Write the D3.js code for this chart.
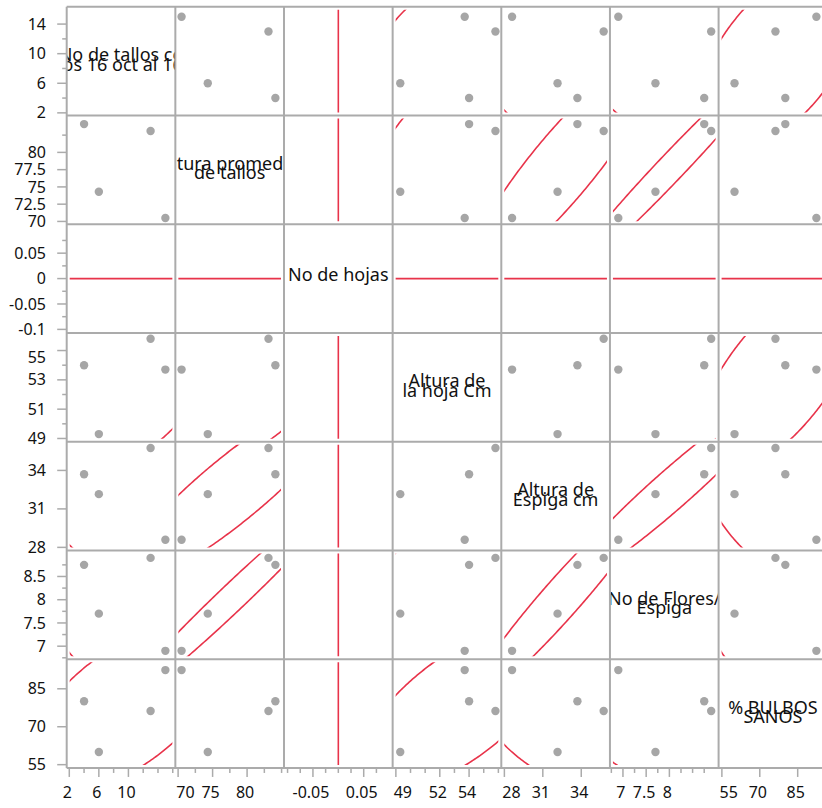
<!DOCTYPE html>
<html>
<head>
<meta charset="utf-8">
<script src="https://cdn.jsdelivr.net/npm/d3@7/dist/d3.min.js"></script>
<style>
  body { margin: 0; background: #fff; }
  text { font-family: "Noto Sans", sans-serif; fill: #111; }
</style>
</head>
<body>
<script>
// variable names, as wrapped lines in the diagonal cells
const names = [
  ["No de tallos co", "ntados 16 oct al 16 nov"],
  ["Altura promedio", "de tallos"],
  ["No de hojas"],
  ["Altura de", "la hoja Cm"],
  ["Altura de", "Espiga cm"],
  ["No de Flores/", "Espiga"],
  ["% BULBOS", "SANOS"]
];

// four observations per variable
const tallos = [4, 13, 6, 15];
const alturaTallos = [84.1, 83.1, 74.3, 70.5];
const hojas = [0, 0, 0, 0];
const alturaHoja = [54, 55.8, 49.3, 53.7];
const alturaEspiga = [33.7, 35.75, 32.15, 28.6];
const flores = [8.75, 8.9, 7.7, 6.9];
const bulbos = [80.1, 76.2, 60, 92.4];
const columns = [tallos, alturaTallos, hojas, alturaHoja, alturaEspiga, flores, bulbos];

const domains = [[1.65, 16.35], [69.6, 85.35], [-0.107, 0.107], [48.78, 56.2], [27.76, 36.24], [6.72, 9.06], [53.7, 96.7]];

const yTicks = [
  [2, 4, 6, 8, 10, 12, 14],
  [70, 72.5, 75, 77.5, 80, 82.5],
  [-0.1, -0.075, -0.05, -0.025, 0, 0.025, 0.05, 0.075],
  [49, 50, 51, 52, 53, 54, 55],
  [28, 31, 34],
  [6.75, 7, 7.25, 7.5, 7.75, 8, 8.25, 8.5, 8.75],
  [55, 70, 85]
];
const yLabels = [[2, 6, 10, 14], [70, 72.5, 75, 77.5, 80], [-0.1, -0.05, 0, 0.05], [49, 51, 53, 55], [28, 31, 34], [7, 7.5, 8, 8.5], [55, 70, 85]];
const xTicks = [
  [2, 4, 6, 8, 10, 12, 14, 16],
  [70, 72.5, 75, 77.5, 80, 82.5, 85],
  [-0.1, -0.075, -0.05, -0.025, 0, 0.025, 0.05, 0.075],
  [49, 50, 51, 52, 53, 54, 55, 56],
  [28, 31, 34],
  [6.75, 7, 7.25, 7.5, 7.75, 8, 8.25, 8.5, 8.75],
  [55, 70, 85]
];
const xLabels = [[2, 6, 10], [70, 75, 80], [-0.05, 0.05], [49, 52, 54], [28, 31, 34], [7, 7.5, 8], [55, 70, 85]];

const margin = { left: 66.7, top: 6.7 },
      cw = 108.65, ch = 108.75,
      n = columns.length,
      k = Math.sqrt(5.991),
      grey = "#ababab",
      red = "#e8334a";

const svg = d3.select("body")
  .append("svg")
  .attr("width", 822)
  .attr("height", 808);

const xScale = domains.map((d, j) => d3.scaleLinear()
  .domain(d)
  .range([margin.left + j * cw, margin.left + (j + 1) * cw]));
const yScale = domains.map((d, i) => d3.scaleLinear()
  .domain(d)
  .range([margin.top + (i + 1) * ch, margin.top + i * ch]));

const defs = svg.append("defs");

function ellipse(xs, ys) {
  const mx = d3.mean(xs), my = d3.mean(ys);
  const sxx = d3.variance(xs), syy = d3.variance(ys);
  const sxy = d3.sum(xs, (d, i) => (d - mx) * (ys[i] - my)) / (xs.length - 1);
  const a = Math.sqrt(sxx),
        b = a > 0 ? sxy / a : 0,
        c = Math.sqrt(Math.max(syy - b * b, 0));
  return d3.range(0, 361).map((t) => {
    const r = t * Math.PI / 180;
    return [mx + k * a * Math.cos(r), my + k * (b * Math.cos(r) + c * Math.sin(r))];
  });
}

for (let i = 0; i < n; i++) {
  for (let j = 0; j < n; j++) {
    const x0 = margin.left + j * cw, y0 = margin.top + i * ch;
    const cell = svg.append("g").attr("class", "cell");
    if (i === j) {
      defs.append("clipPath")
        .attr("id", "lab" + i)
        .append("rect")
        .attr("x", x0)
        .attr("y", y0)
        .attr("width", cw)
        .attr("height", ch);
      const cy = y0 + ch / 2;
      cell.append("text")
        .attr("clip-path", "url(#lab" + i + ")")
        .attr("text-anchor", "middle")
        .style("font-size", "18px")
        .selectAll("tspan")
        .data(names[i])
        .enter()
        .append("tspan")
        .attr("x", x0 + cw / 2)
        .attr("y", (d, l) => names[i].length === 1 ? cy + 2 : cy + l * 9.6)
        .text((d) => d);
      continue;
    }
    defs.append("clipPath")
      .attr("id", "c" + i + "-" + j)
      .append("rect")
      .attr("x", x0 + 3)
      .attr("y", y0 + 3)
      .attr("width", cw - 6)
      .attr("height", ch - 6);

    // a constant column (No de hojas) only gets its degenerate ellipse, no points
    const showPoints = d3.variance(columns[i]) > 0 && d3.variance(columns[j]) > 0;
    cell.selectAll("circle")
      .data(showPoints ? columns[j].map((d, p) => [d, columns[i][p]]) : [])
      .enter()
      .append("circle")
      .attr("cx", (d) => xScale[j](d[0]))
      .attr("cy", (d) => yScale[i](d[1]))
      .attr("r", 4.2)
      .style("fill", "#a6a6a6");

    cell.append("path")
      .attr("clip-path", "url(#c" + i + "-" + j + ")")
      .attr("d", d3.line()
        .x((d) => xScale[j](d[0]))
        .y((d) => yScale[i](d[1]))(ellipse(columns[j], columns[i])))
      .style("fill", "none")
      .style("stroke", red)
      .style("stroke-width", 1.6);
  }
}

// cell borders
const grid = svg.append("g").attr("class", "grid");
d3.range(n + 1).forEach((j) => {
  grid.append("line")
    .attr("x1", margin.left + j * cw).attr("x2", margin.left + j * cw)
    .attr("y1", margin.top).attr("y2", margin.top + n * ch);
  grid.append("line")
    .attr("y1", margin.top + j * ch).attr("y2", margin.top + j * ch)
    .attr("x1", margin.left).attr("x2", margin.left + n * cw);
});
grid.selectAll("line")
  .style("stroke", grey)
  .style("stroke-width", 2);

// y axes
const yAxis = svg.append("g").attr("class", "y-axis");
let prevY = -Infinity;
yScale.forEach((s, i) => {
  yTicks[i].forEach((t) => {
    const major = yLabels[i].includes(t);
    yAxis.append("line")
      .attr("x1", margin.left - (major ? 9.5 : 4.5))
      .attr("x2", margin.left)
      .attr("y1", s(t))
      .attr("y2", s(t))
      .style("stroke", grey)
      .style("stroke-width", 1.5);
  });
  yLabels[i].slice().sort((a, b) => b - a).forEach((t, l) => {
    let y = s(t);
    if (l === 0 && y - prevY < 28) y = prevY + 28;
    prevY = Math.max(s(t), y);
    yAxis.append("text")
      .attr("x", 46)
      .attr("y", y)
      .attr("dy", "0.35em")
      .attr("text-anchor", "end")
      .style("font-size", "16px")
      .text(String(t));
  });
});

// x axes
const xAxis = svg.append("g").attr("class", "x-axis");
const bottom = margin.top + n * ch;
xScale.forEach((s, j) => {
  xTicks[j].forEach((t) => {
    const major = xLabels[j].includes(t);
    xAxis.append("line")
      .attr("x1", s(t))
      .attr("x2", s(t))
      .attr("y1", bottom)
      .attr("y2", bottom + (major ? 9 : 5))
      .style("stroke", grey)
      .style("stroke-width", 1.5);
  });
  xLabels[j].forEach((t) => {
    const label = xAxis.append("text")
      .attr("y", 798)
      .attr("text-anchor", "middle")
      .style("font-size", "16px")
      .text(String(t));
    let x = s(t) - 2;
    const w = label.node().getComputedTextLength();
    if (j > 0 && x - w / 2 < s.range()[0] + 1) x = s.range()[0] + 1 + w / 2;
    label.attr("x", x);
  });
});
</script>
</body>
</html>
